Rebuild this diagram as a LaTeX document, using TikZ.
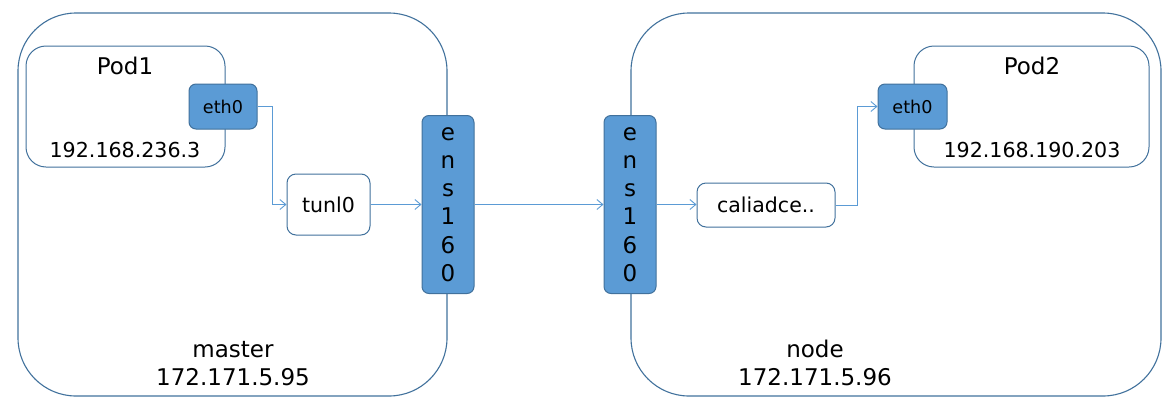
\documentclass[tikz,border=0pt]{standalone}
\usepackage{fontspec}
\setmainfont{DejaVu Sans}
\usetikzlibrary{arrows.meta}
\definecolor{edgeblue}{RGB}{65,113,156}
\definecolor{ifblue}{RGB}{91,155,213}
\begin{document}
\begin{tikzpicture}
[x=1pt,y=-1pt,
  hostbox/.style={draw=edgeblue,line width=1.1pt,rounded corners=58pt,inner sep=0pt},%
  podbox/.style={draw=edgeblue,line width=1pt,rounded corners=20pt,fill=white,inner sep=0pt},%
  ifbox/.style={draw=edgeblue,line width=1pt,fill=ifblue,rounded corners=7pt,inner sep=0pt},%
  devbox/.style={draw=edgeblue,line width=1pt,fill=white,rounded corners=9pt,inner sep=0pt,
    font=\fontsize{20.5}{24}\selectfont},%
  link/.style={draw=ifblue,line width=0.9pt,-{Straight Barb[length=6pt,width=10pt]}}]
\useasboundingbox (0,0) rectangle (1169,410);
%% hosts and pods
\node (master) at (232.5,204.5) [hostbox,minimum width=429pt,minimum height=383pt] {};
\node (worker) at (896,204.5) [hostbox,minimum width=530pt,minimum height=383pt] {};
\node (pod1) at (125.5,106.5) [podbox,minimum width=199pt,minimum height=121pt] {};
\node (pod2) at (1031.5,106.5) [podbox,minimum width=235pt,minimum height=121pt] {};
%% labels
\foreach \labelname/\x/\y/\size/\txt in {podA/125/74/23/Pod1, ipA/125/157/20.6/192.168.236.3,
  podB/1032/74/23/Pod2, ipB/1032/157/20.6/192.168.190.203,
  hostA/233/357/23/master, hostipA/233/385/23/172.171.5.95,
  hostB/815/357/23/node, hostipB/815/385/23/172.171.5.96}
{
  \node (\labelname) at (\x,\y) [anchor=base,inner sep=0pt,font=\fontsize{\size}{\size}\selectfont] {\txt};
}
%% interfaces
\node (eth0a) at (223,106.5) [ifbox,minimum width=68pt,minimum height=45pt,
  font=\fontsize{17.6}{20}\selectfont] {eth0};
\node (eth0b) at (912.5,106.5) [ifbox,minimum width=69pt,minimum height=45pt,
  font=\fontsize{17.6}{20}\selectfont] {eth0};
\node (tunl0) at (328.5,204.5) [devbox,minimum width=83pt,minimum height=61pt] {tunl0};
\node (cali) at (766,205) [devbox,minimum width=138pt,minimum height=44pt] {caliadce..};
\node (ensA) at (448,204.5) [ifbox,minimum width=52pt,minimum height=178pt,align=center,
  font=\fontsize{23}{28.2}\selectfont] {e\\n\\s\\1\\6\\0};
\node (ensB) at (630,204.5) [ifbox,minimum width=52pt,minimum height=178pt,align=center,
  font=\fontsize{23}{28.2}\selectfont] {e\\n\\s\\1\\6\\0};
%% links
\draw[link] (eth0a.east) -- ++(15,0) |- (tunl0.west);
\draw[link] (tunl0.east) -- (tunl0.east -| ensA.west);
\draw[link] (ensA.east) -- (ensB.west);
\draw[link] (ensB.east) -- (ensB.east -| cali.west);
\draw[link] (cali.east) -- ++(22,0) |- (eth0b.west);
\end{tikzpicture}
\end{document}
